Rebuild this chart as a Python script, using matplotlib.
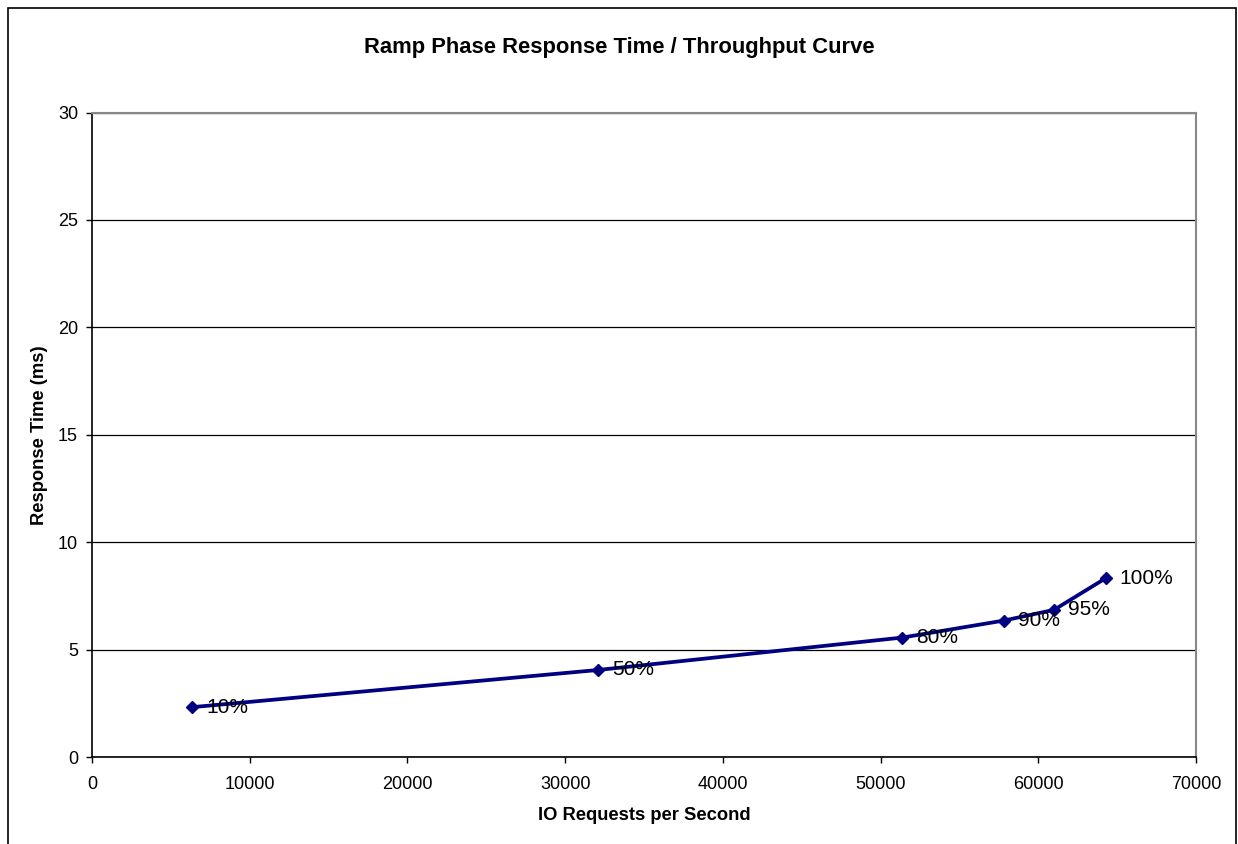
import matplotlib
matplotlib.use("Agg")
import matplotlib.pyplot as plt
from matplotlib.patches import Rectangle

plt.rcParams['font.family'] = ['Liberation Sans', 'DejaVu Sans']

labels = ['10%', '50%', '80%', '90%', '95%', '100%']
io_rate = [6350, 32080, 51380, 57810, 61000, 64270]
resp_time = [2.32, 4.05, 5.56, 6.35, 6.85, 8.32]

fig = plt.figure(figsize=(12.38, 8.44), dpi=100)
ax = fig.add_axes([92/1238, 1 - 757/844, (1196 - 92)/1238, (757 - 112.5)/844])

# outer chart frame
fig.patches.append(Rectangle((8/1238, -0.05), (1236 - 8)/1238, 1.05 - 8/844,
                             transform=fig.transFigure, fill=False,
                             edgecolor='black', linewidth=1.2))

ax.plot(io_rate, resp_time, color='#000080', linewidth=2.7,
        marker='D', markersize=6.5, zorder=3)

for x, y, lab in zip(io_rate, resp_time, labels):
    ax.annotate(lab, xy=(x, y), xytext=(10, 0), textcoords='offset points',
                ha='left', va='center', fontsize=15, zorder=4)

ax.set_xlim(0, 70000)
ax.set_ylim(0, 30)
ax.set_xticks(range(0, 70001, 10000))
ax.set_yticks(range(0, 31, 5))
ax.yaxis.grid(True, color='black', linewidth=0.9)
ax.set_axisbelow(True)
ax.tick_params(labelsize=13, direction='out', length=4, width=1)
ax.tick_params(axis='x', pad=10)
ax.tick_params(axis='y', pad=6)

ax.spines['left'].set_linewidth(1.2)
ax.spines['bottom'].set_linewidth(1.2)
ax.spines['top'].set_color('#888888')
ax.spines['right'].set_color('#888888')
ax.spines['top'].set_linewidth(1.5)
ax.spines['right'].set_linewidth(1.5)

fig.text(0.5, 1 - 47/844, 'Ramp Phase Response Time / Throughput Curve',
         ha='center', va='center', fontsize=15.8, fontweight='bold')
fig.text(644/1238, 1 - 816/844, 'IO Requests per Second',
         ha='center', va='center', fontsize=13.2, fontweight='bold')
fig.text(40/1238, 1 - 435/844, 'Response Time (ms)', rotation=90,
         ha='center', va='center', fontsize=13.2, fontweight='bold')

fig.savefig('out.png', dpi=100)
